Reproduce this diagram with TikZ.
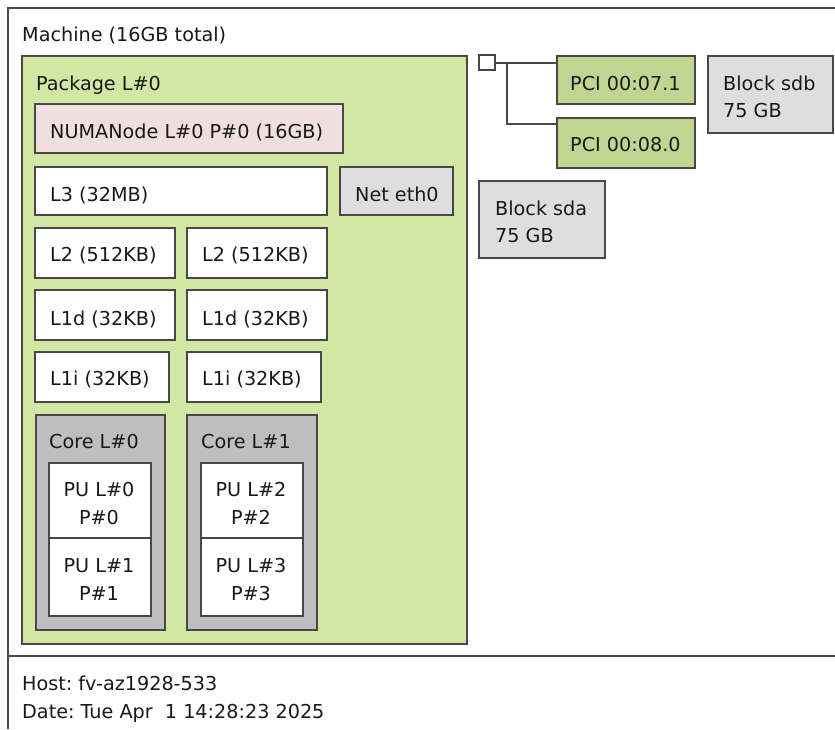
\documentclass[tikz,border=0pt]{standalone}
\usepackage{fontspec}
\setmainfont{DejaVu Sans}
\frenchspacing
\definecolor{linecol}{RGB}{72,72,72}
\definecolor{txtcol}{RGB}{25,25,25}
\definecolor{pkgcol}{RGB}{210,231,164}
\definecolor{numacol}{RGB}{239,223,222}
\definecolor{corecol}{RGB}{190,190,190}
\definecolor{blkcol}{RGB}{222,222,222}
\definecolor{pcicol}{RGB}{193,213,146}
\newcommand\mybox[6]{\node[box, fill=#6, minimum width={(#4-#2)*1pt}, minimum height={(#5-#3)*1pt}] (#1) at (#2,#3) {};}
\begin{document}
\begin{tikzpicture}[x=1pt,y=-1pt,
  box/.style={draw=linecol, line width=2pt, inner sep=0pt, anchor=north west},
  txt/.style={anchor=base west, inner sep=0pt, text=txtcol, font=\fontsize{19.2}{23}\selectfont\frenchspacing},
  ctxt/.style={anchor=base, inner sep=0pt, text=txtcol, font=\fontsize{19.2}{23}\selectfont},
  conn/.style={draw=linecol, line width=2pt}]
\useasboundingbox[fill=white] (0,0) rectangle (835,729);
% machine frame and footer
\draw[conn] (835,8) -- (8,8) -- (8,729);
\draw[conn] (8,656) -- (835,656);
\node[txt] (tmach) at (22,41.5) {Machine (16GB total)};
% package
\mybox{pkg}{21}{55}{466}{643}{pkgcol}
\node[txt] (tpkg) at (36,90) {Package L\#0};
\mybox{numa}{34}{103}{342}{152}{numacol}
\node[txt] (tnuma) at (50,138.5) {NUMANode L\#0 P\#0 (16GB)};
\mybox{l3}{34}{166}{326}{214}{white}
\node[txt] (tl3) at (50,201) {L3 (32MB)};
\mybox{net}{339}{166}{452}{214}{blkcol}
\node[txt] (tnet) at (355,201) {Net eth0};
\mybox{l2a}{34}{227}{174}{277}{white}
\node[txt] (tl2a) at (50,261.5) {L2 (512KB)};
\mybox{l2b}{186}{227}{326}{277}{white}
\node[txt] (tl2b) at (202,261.5) {L2 (512KB)};
\mybox{l1da}{34}{289}{174}{339}{white}
\node[txt] (tl1da) at (50,325) {L1d (32KB)};
\mybox{l1db}{186}{289}{326}{339}{white}
\node[txt] (tl1db) at (202,325) {L1d (32KB)};
\mybox{l1ia}{34}{351}{168}{401}{white}
\node[txt] (tl1ia) at (50,385.5) {L1i (32KB)};
\mybox{l1ib}{186}{351}{320}{401}{white}
\node[txt] (tl1ib) at (202,385.5) {L1i (32KB)};
\mybox{core0}{35}{414}{164}{629}{corecol}
\node[txt] (tcore0) at (49,448) {Core L\#0};
\mybox{core1}{186}{414}{316}{629}{corecol}
\node[txt] (tcore1) at (201,448) {Core L\#1};
\mybox{pu0}{48}{462}{150}{537}{white}
\mybox{pu1}{48}{537}{150}{615}{white}
\mybox{pu2}{200}{462}{302}{537}{white}
\mybox{pu3}{200}{537}{302}{615}{white}
\node[ctxt] (tpu0a) at (99,496.5) {PU L\#0};
\node[ctxt] (tpu0b) at (99,524) {P\#0};
\node[ctxt] (tpu1a) at (99,572) {PU L\#1};
\node[ctxt] (tpu1b) at (99,600) {P\#1};
\node[ctxt] (tpu2a) at (251,496.5) {PU L\#2};
\node[ctxt] (tpu2b) at (251,524) {P\#2};
\node[ctxt] (tpu3a) at (251,572) {PU L\#3};
\node[ctxt] (tpu3b) at (251,600) {P\#3};
% I/O
\mybox{sq}{478}{54}{494}{69}{white}
\mybox{pci1}{556}{55}{694}{103}{pcicol}
\node[txt] (tpci1) at (570,90) {PCI 00:07.1};
\mybox{pci2}{556}{117}{694}{167}{pcicol}
\node[txt] (tpci2) at (570,151) {PCI 00:08.0};
\mybox{sdb}{707}{55}{832}{132}{blkcol}
\node[txt] (tsdb1) at (723,90) {Block sdb};
\node[txt] (tsdb2) at (723,117.5) {75 GB};
\mybox{sda}{478}{180}{604}{257}{blkcol}
\node[txt] (tsda1) at (495,215) {Block sda};
\node[txt] (tsda2) at (495,242.5) {75 GB};
\coordinate (br) at (507,61.5);
\draw[conn] (sq.east) -- (pci1.west |- sq.east);
\draw[conn] (br) |- ([yshift=-7pt]pci2.north west);
% footer
\node[txt] (thost) at (22,690) {Host: fv-az1928-533};
\node[txt] (tdate) at (22,718) {Date: Tue Apr\ \ 1 14:28:23 2025};
\end{tikzpicture}
\end{document}
